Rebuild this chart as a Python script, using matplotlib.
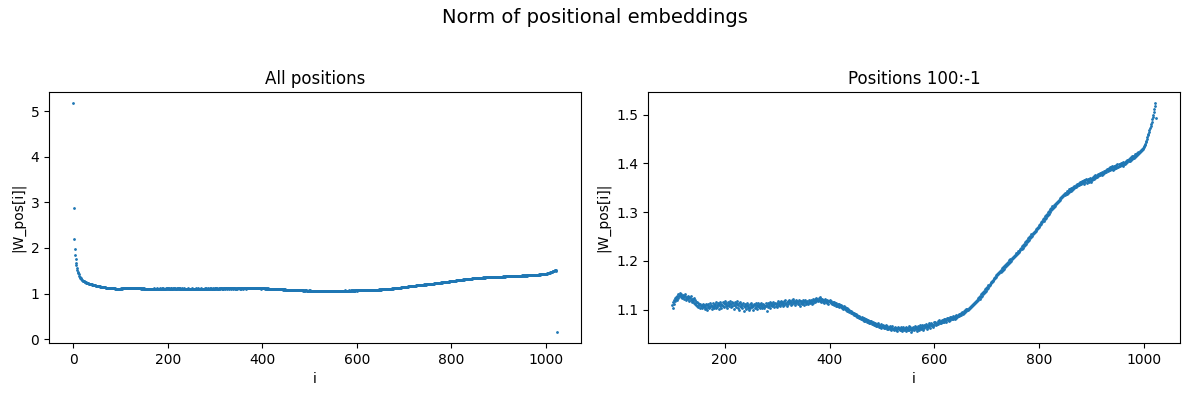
"""
Norm of each positional embedding, whole range and positions 100:-1
"""

import numpy as np
import matplotlib
matplotlib.use("Agg")
import matplotlib.pyplot as plt

# |W_pos[i]| for i = 0..1023, in thousandths
norms_x1000 = [
    5170, 2880, 2200, 1980, 1850, 1760, 1680, 1620, 1560, 1520, 1480, 1450, 1420, 1395, 1370, 1350, 1333, 1318, 1305, 1295,
    1287, 1280, 1274, 1268, 1262, 1257, 1252, 1247, 1242, 1238, 1234, 1230, 1226, 1222, 1219, 1215, 1212, 1209, 1206, 1203,
    1200, 1197, 1194, 1191, 1188, 1185, 1183, 1180, 1177, 1175, 1172, 1169, 1167, 1165, 1162, 1160, 1158, 1156, 1154, 1152,
    1150, 1148, 1146, 1144, 1142, 1140, 1138, 1137, 1135, 1133, 1132, 1130, 1129, 1127, 1126, 1125, 1124, 1122, 1121, 1120,
    1119, 1118, 1117, 1116, 1116, 1115, 1114, 1114, 1113, 1112, 1112, 1111, 1111, 1110, 1110, 1110, 1109, 1109, 1109, 1108,
    1110, 1104, 1116, 1112, 1120, 1117, 1124, 1121, 1126, 1119, 1128, 1124, 1131, 1127, 1133, 1129, 1126, 1132, 1128, 1124,
    1130, 1125, 1128, 1122, 1127, 1131, 1124, 1120, 1126, 1123, 1128, 1121, 1125, 1118, 1123, 1127, 1119, 1122, 1116, 1121,
    1118, 1123, 1114, 1119, 1112, 1116, 1110, 1115, 1108, 1113, 1106, 1111, 1109, 1104, 1112, 1107, 1110, 1103, 1108, 1112,
    1105, 1110, 1101, 1107, 1112, 1104, 1109, 1099, 1106, 1111, 1103, 1108, 1114, 1105, 1110, 1102, 1107, 1113, 1106, 1109,
    1104, 1112, 1108, 1115, 1103, 1110, 1106, 1113, 1109, 1101, 1111, 1116, 1107, 1112, 1104, 1110, 1115, 1108, 1113, 1106,
    1111, 1117, 1108, 1113, 1104, 1110, 1116, 1109, 1114, 1107, 1112, 1118, 1105, 1111, 1115, 1108, 1113, 1102, 1110, 1116,
    1109, 1114, 1106, 1112, 1117, 1104, 1110, 1113, 1100, 1108, 1115, 1106, 1111, 1103, 1109, 1114, 1098, 1107, 1112, 1105,
    1110, 1101, 1107, 1113, 1104, 1109, 1099, 1106, 1112, 1103, 1108, 1114, 1105, 1110, 1100, 1107, 1111, 1104, 1109, 1113,
    1106, 1110, 1102, 1108, 1113, 1105, 1109, 1103, 1111, 1107, 1114, 1104, 1109, 1112, 1106, 1110, 1103, 1108, 1113, 1107,
    1097, 1110, 1114, 1106, 1111, 1108, 1115, 1104, 1110, 1113, 1107, 1112, 1116, 1109, 1105, 1111, 1114, 1108, 1112, 1106,
    1113, 1117, 1109, 1114, 1110, 1116, 1107, 1112, 1118, 1111, 1115, 1108, 1113, 1117, 1110, 1114, 1119, 1112, 1108, 1115,
    1118, 1111, 1116, 1120, 1113, 1117, 1109, 1115, 1119, 1112, 1116, 1121, 1114, 1118, 1110, 1116, 1120, 1113, 1117, 1111,
    1115, 1119, 1112, 1117, 1108, 1114, 1118, 1111, 1116, 1120, 1113, 1117, 1110, 1115, 1119, 1112, 1116, 1114, 1118, 1111,
    1116, 1120, 1113, 1117, 1115, 1119, 1112, 1118, 1121, 1114, 1117, 1120, 1116, 1122, 1118, 1124, 1119, 1121, 1117, 1123,
    1120, 1125, 1118, 1121, 1116, 1122, 1119, 1115, 1120, 1117, 1113, 1119, 1121, 1116, 1118, 1114, 1120, 1117, 1112, 1118,
    1116, 1119, 1113, 1117, 1114, 1111, 1116, 1112, 1115, 1110, 1114, 1111, 1108, 1113, 1110, 1107, 1112, 1108, 1111, 1106,
    1110, 1106, 1109, 1104, 1108, 1105, 1102, 1107, 1103, 1106, 1101, 1104, 1100, 1103, 1098, 1101, 1097, 1100, 1095, 1098,
    1094, 1097, 1092, 1095, 1090, 1094, 1089, 1092, 1088, 1091, 1086, 1090, 1085, 1088, 1084, 1087, 1083, 1086, 1082, 1085,
    1081, 1084, 1080, 1083, 1078, 1082, 1077, 1081, 1076, 1080, 1078, 1075, 1079, 1074, 1078, 1076, 1073, 1077, 1072, 1076,
    1074, 1071, 1075, 1070, 1073, 1069, 1072, 1068, 1071, 1067, 1070, 1066, 1069, 1072, 1065, 1068, 1064, 1067, 1070, 1063,
    1066, 1069, 1064, 1067, 1063, 1066, 1062, 1068, 1064, 1061, 1066, 1063, 1060, 1065, 1062, 1067, 1061, 1064, 1059, 1063,
    1066, 1060, 1063, 1058, 1062, 1065, 1059, 1063, 1061, 1057, 1062, 1065, 1060, 1063, 1058, 1061, 1064, 1059, 1062, 1056,
    1061, 1065, 1058, 1062, 1060, 1064, 1057, 1061, 1063, 1059, 1062, 1066, 1058, 1061, 1064, 1055, 1060, 1063, 1058, 1062,
    1065, 1059, 1062, 1067, 1060, 1064, 1057, 1063, 1066, 1061, 1058, 1064, 1068, 1062, 1060, 1065, 1069, 1063, 1059, 1066,
    1068, 1062, 1066, 1070, 1064, 1067, 1061, 1069, 1065, 1072, 1066, 1070, 1063, 1068, 1073, 1067, 1071, 1065, 1069, 1074,
    1068, 1072, 1075, 1069, 1073, 1070, 1076, 1071, 1074, 1078, 1072, 1075, 1073, 1077, 1074, 1079, 1075, 1078, 1074, 1080,
    1077, 1081, 1078, 1075, 1082, 1079, 1083, 1077, 1080, 1084, 1079, 1082, 1085, 1080, 1083, 1081, 1086, 1082, 1084, 1080,
    1086, 1083, 1088, 1085, 1087, 1089, 1086, 1091, 1088, 1090, 1093, 1089, 1092, 1095, 1091, 1094, 1097, 1093, 1096, 1099,
    1097, 1101, 1099, 1102, 1100, 1104, 1102, 1106, 1104, 1108, 1106, 1110, 1108, 1112, 1109, 1114, 1111, 1116, 1113, 1118,
    1115, 1120, 1118, 1123, 1120, 1125, 1122, 1128, 1125, 1131, 1128, 1133, 1131, 1137, 1134, 1139, 1137, 1142, 1139, 1145,
    1142, 1147, 1145, 1150, 1148, 1153, 1151, 1156, 1154, 1159, 1157, 1161, 1159, 1164, 1162, 1167, 1165, 1170, 1167, 1172,
    1170, 1175, 1173, 1178, 1175, 1180, 1178, 1182, 1180, 1185, 1182, 1187, 1184, 1189, 1187, 1191, 1189, 1194, 1191, 1196,
    1193, 1198, 1196, 1201, 1198, 1203, 1200, 1205, 1203, 1208, 1205, 1210, 1207, 1212, 1210, 1215, 1212, 1217, 1214, 1220,
    1216, 1221, 1219, 1224, 1222, 1227, 1224, 1230, 1227, 1232, 1230, 1235, 1233, 1238, 1235, 1241, 1238, 1243, 1241, 1246,
    1243, 1248, 1246, 1251, 1249, 1254, 1251, 1257, 1254, 1259, 1257, 1262, 1260, 1265, 1262, 1268, 1265, 1270, 1268, 1273,
    1270, 1276, 1273, 1279, 1276, 1282, 1279, 1285, 1282, 1288, 1285, 1291, 1288, 1294, 1291, 1297, 1294, 1300, 1297, 1303,
    1301, 1307, 1304, 1309, 1307, 1312, 1309, 1314, 1311, 1316, 1313, 1318, 1316, 1321, 1318, 1323, 1320, 1325, 1322, 1328,
    1325, 1330, 1328, 1333, 1330, 1334, 1332, 1337, 1334, 1339, 1336, 1340, 1338, 1343, 1340, 1344, 1342, 1347, 1343, 1348,
    1344, 1349, 1346, 1350, 1348, 1352, 1349, 1354, 1351, 1355, 1352, 1357, 1353, 1358, 1355, 1359, 1356, 1361, 1357, 1362,
    1358, 1363, 1359, 1364, 1361, 1366, 1358, 1365, 1362, 1367, 1360, 1366, 1363, 1368, 1361, 1367, 1364, 1369, 1362, 1368,
    1365, 1370, 1367, 1372, 1368, 1373, 1370, 1375, 1371, 1376, 1372, 1377, 1374, 1379, 1375, 1380, 1376, 1381, 1377, 1382,
    1376, 1381, 1379, 1384, 1380, 1385, 1382, 1387, 1383, 1388, 1384, 1389, 1386, 1391, 1387, 1392, 1388, 1393, 1389, 1394,
    1387, 1392, 1389, 1394, 1390, 1395, 1391, 1397, 1392, 1398, 1393, 1399, 1394, 1399, 1395, 1400, 1396, 1401, 1397, 1402,
    1395, 1400, 1398, 1403, 1399, 1404, 1401, 1406, 1402, 1407, 1404, 1409, 1405, 1410, 1407, 1412, 1408, 1414, 1410, 1415,
    1410, 1415, 1413, 1418, 1415, 1420, 1417, 1422, 1419, 1424, 1421, 1426, 1423, 1428, 1425, 1430, 1427, 1432, 1430, 1435,
    1434, 1438, 1440, 1443, 1446, 1450, 1453, 1457, 1461, 1465, 1469, 1473, 1477, 1481, 1485, 1490, 1495, 1500, 1506, 1512,
    1518, 1523, 1492, 170,
]

norms = np.array(norms_x1000) / 1000
positions = np.arange(len(norms))

fig, axes = plt.subplots(1, 2, figsize=(11.89, 3.96), dpi=100)
fig.suptitle("Norm of positional embeddings", fontsize=14)

ax = axes[0]
ax.scatter(positions, norms, s=1)
ax.set_title("All positions")
ax.set_xlabel("i")
ax.set_ylabel("|W_pos[i]|")

ax = axes[1]
ax.scatter(positions[100:-1], norms[100:-1], s=1)
ax.set_title("Positions 100:-1")
ax.set_xlabel("i")
ax.set_ylabel("|W_pos[i]|")

fig.subplots_adjust(left=0.0412, right=0.9924, bottom=0.134, top=0.768, wspace=0.126)
fig.savefig("out.png")
